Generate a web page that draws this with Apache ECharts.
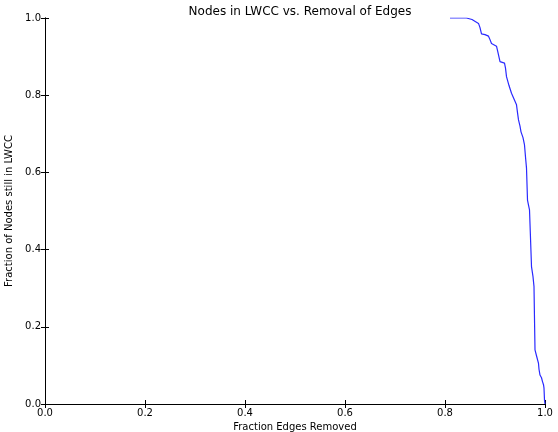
<!DOCTYPE html>
<html><head><meta charset="utf-8">
<script src="https://cdn.jsdelivr.net/npm/echarts@6/dist/echarts.min.js"></script>
<style>html,body{margin:0;padding:0;background:#fff}#c{width:558px;height:432px}</style>
</head><body><div id="c"></div>
<script>
var fractionRemoved = [0.810,0.843,0.854,0.867,0.870,0.873,0.880,0.887,0.890,0.893,0.897,0.903,0.906,0.910,0.914,0.919,0.921,0.923,0.928,0.933,0.938,0.943,0.945,0.947,0.950,0.952,0.956,0.959,0.961,0.963,0.964,0.965,0.967,0.969,0.971,0.973,0.976,0.978,0.979,0.980,0.983,0.987,0.988,0.990,0.993,0.995,0.997,0.998,0.999,1.000];
var fractionInLWCC = [1.000,1.000,0.996,0.986,0.975,0.959,0.957,0.953,0.944,0.934,0.930,0.927,0.910,0.887,0.886,0.883,0.870,0.848,0.825,0.805,0.790,0.775,0.755,0.736,0.720,0.705,0.690,0.671,0.640,0.611,0.570,0.528,0.515,0.503,0.430,0.356,0.330,0.304,0.220,0.140,0.125,0.105,0.090,0.075,0.068,0.058,0.050,0.041,0.010,0.000];
var tickLabels = ['0.0','0.2','0.4','0.6','0.8','1.0'];

var pts = fractionRemoved.map(function(x,i){return [x, fractionInLWCC[i]];});
var fmt = function(v){return v.toFixed(1);};
var tickStyle = {show:true, inside:true, length:4, lineStyle:{color:'#000',width:1}};
var lineStyle = {show:true, lineStyle:{color:'#000',width:1}};
var font = 'DejaVu Sans';
var chart = echarts.init(document.getElementById('c'));
chart.setOption({
  animation:false,
  title:{text:'Nodes in LWCC vs. Removal of Edges', left:295, textAlign:'center', top:1,
    textStyle:{fontFamily:font, fontSize:12, fontWeight:'normal', color:'#000'}},
  grid:{left:45, right:13, top:18, bottom:28, containLabel:false, outerBoundsMode:'none'},
  xAxis:[
    {type:'value', min:0, max:1, interval:0.2, position:'bottom',
     name:'Fraction Edges Removed', nameLocation:'middle', nameGap:16,
     nameTextStyle:{fontFamily:font, fontSize:10, color:'#000'},
     axisLine:lineStyle, axisTick:tickStyle, splitLine:{show:false},
     axisLabel:{formatter:fmt, fontFamily:font, fontSize:10, color:'#000', margin:4}},
    {type:'value', min:0, max:1, interval:0.2, position:'top',
     axisLine:lineStyle, axisTick:tickStyle, splitLine:{show:false}, axisLabel:{show:false}}
  ],
  yAxis:[
    {type:'value', min:0, max:1, interval:0.2, position:'left',
     name:'Fraction of Nodes still in LWCC', nameLocation:'middle', nameGap:28,
     nameTextStyle:{fontFamily:font, fontSize:10, color:'#000'},
     axisLine:lineStyle, axisTick:tickStyle, splitLine:{show:false},
     axisLabel:{formatter:fmt, fontFamily:font, fontSize:10, color:'#000', margin:4}},
    {type:'value', min:0, max:1, interval:0.2, position:'right',
     axisLine:lineStyle, axisTick:tickStyle, splitLine:{show:false}, axisLabel:{show:false}}
  ],
  series:[{type:'line', data:pts, showSymbol:false, symbol:'none',
    lineStyle:{color:'#2a2aff', width:1.2}, xAxisIndex:0, yAxisIndex:0}]
});
</script></body></html>
